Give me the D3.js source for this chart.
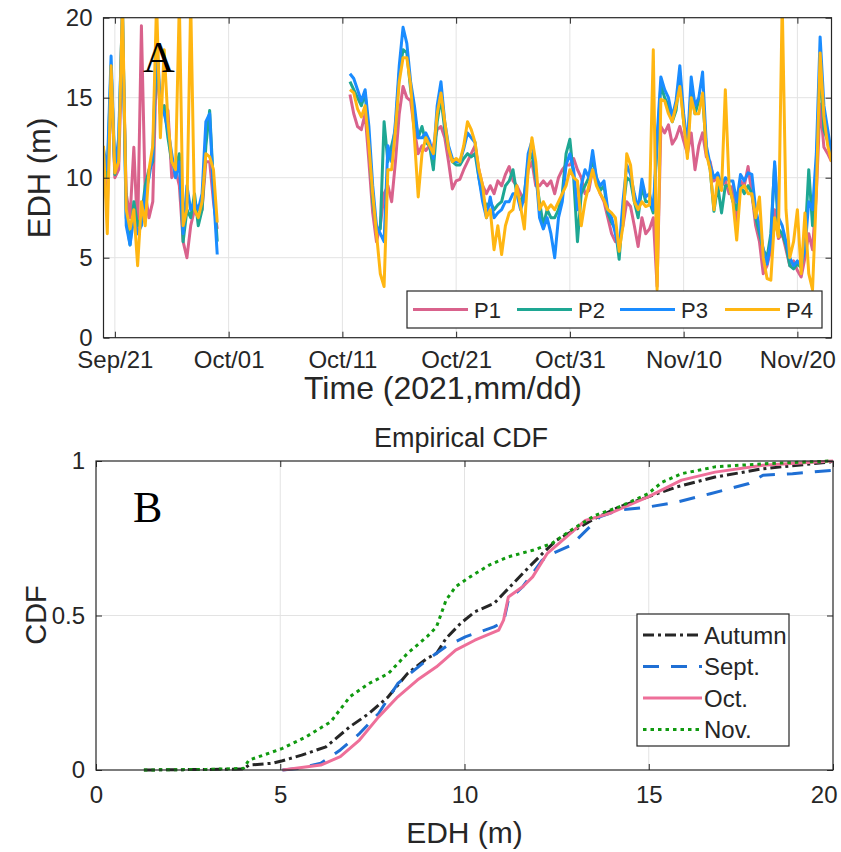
<!DOCTYPE html>
<html>
<head>
<meta charset="UTF-8">
<script src="https://d3js.org/d3.v7.min.js"></script>
<style>
    body { margin: 0; background: #fff; }
    svg text { font-family: "Liberation Sans", Arial, sans-serif; fill: #262626; }
    .grid line { stroke: #e3e3e3; stroke-width: 1; }
    .axis line { stroke: #262626; }
    .axis path { display: none; }
    .axis text { font-size: 24px; }
    .frame { fill: none; stroke: #262626; stroke-width: 1.2; }
    .series { fill: none; stroke-width: 3; stroke-linejoin: round; }
</style>
</head>
<body>
<svg id="chart" width="841" height="852"></svg>
<script>
// ---- panel A: EDH time series (hours after 2021-09-21 00:00 UTC) ----
const hoursSep = [-24, -16, -8, 0, 8, 16, 24, 32, 40, 48, 56, 64, 72, 80, 88, 96,
    104, 112, 120, 128, 136, 144, 152, 160, 168, 176, 184, 192, 200, 208, 216];
const hoursOct = [496, 504, 512, 520, 528, 536, 544, 552, 560, 568, 576, 584, 592, 600, 608, 616,
    624, 632, 640, 648, 656, 664, 672, 680, 688, 696, 704, 712, 720, 728, 736, 744,
    752, 760, 768, 776, 784, 792, 800, 808, 816, 824, 832, 840, 848, 856, 864, 872,
    880, 888, 896, 904, 912, 920, 928, 936, 944, 952, 960, 968, 976, 984, 992, 1000,
    1008, 1016, 1024, 1032, 1040, 1048, 1056, 1064, 1072, 1080, 1088, 1096, 1104, 1112, 1120, 1128,
    1136, 1144, 1152, 1160, 1168, 1176, 1184, 1192, 1200, 1208, 1216, 1224, 1232, 1240, 1248, 1256,
    1264, 1272, 1280, 1288, 1296, 1304, 1312, 1320, 1328, 1336, 1344, 1352, 1360, 1368, 1376, 1384,
    1392, 1400, 1408, 1416, 1424, 1432, 1440, 1448, 1456, 1464, 1472, 1480, 1488, 1496, 1504, 1512];

const p1Sep = [11.0, 8.0, 16.3, 10.0, 10.5, 19.0, 9.0, 7.5, 11.9, 6.5, 19.5, 9.0, 7.5, 8.5, 17.5, 14.0,
    14.5, 14.2, 10.0, 10.5, 9.5, 6.0, 5.0, 7.0, 8.0, 7.5, 8.0, 11.0, 11.0, 8.5, 6.8];
const p2Sep = [11.5, 10.0, 17.0, 10.2, 12.0, 20.5, 7.5, 5.8, 8.5, 7.0, 7.5, 9.5, 10.5, 11.0, 18.5, 14.0,
    14.5, 12.5, 11.0, 10.5, 11.5, 6.0, 8.0, 7.5, 9.0, 7.0, 8.0, 12.0, 14.2, 9.5, 6.0];
const p3Sep = [11.8, 10.5, 17.6, 10.5, 12.5, 20.5, 7.0, 5.8, 7.5, 6.5, 7.0, 9.0, 10.0, 11.5, 19.0, 14.5,
    14.0, 13.0, 11.5, 10.0, 11.0, 6.5, 9.5, 8.0, 8.5, 8.0, 9.0, 13.5, 14.0, 9.0, 5.2];
const p4Sep = [12.0, 6.5, 17.0, 10.3, 11.0, 21, 8.0, 6.8, 8.0, 4.5, 8.5, 7.0, 10.5, 12.0, 21, 12.5,
    18.0, 13.5, 11.0, 10.5, 21, 7.0, 8.0, 21, 8.0, 7.5, 8.5, 11.5, 11.3, 10.5, 7.2];

const p1Oct = [15.2, 14.0, 13.2, 13.0, 14.0, 11.0, 7.8, 6.0, 7.0, 9.0,
    9.5, 8.5, 11.0, 14.0, 15.7, 15.0, 14.8, 13.0, 11.5, 12.0,
    11.7, 12.0, 12.0, 13.0, 13.2, 12.5, 11.0, 9.3, 9.8, 9.9,
    10.5, 11.0, 11.5, 12.0, 10.5, 9.5, 9.0, 9.5, 9.0, 9.8,
    9.5, 10.2, 10.7, 9.8, 9.5, 9.0, 8.5, 10.5, 11.0, 9.5,
    9.5, 9.8, 9.5, 9.8, 9.0, 10.0, 10.5, 10.8, 10.8, 11.2,
    10.5, 10.0, 9.0, 9.2, 10.5, 9.8, 9.0, 8.5, 7.5, 6.5,
    6.0, 6.0, 7.0, 8.5, 8.2, 7.0, 5.7, 7.5, 6.5, 6.8,
    7.5, 3.2, 13.2, 12.8, 13.3, 12.1, 12.5, 13.2, 12.3, 11.5,
    12.8, 10.5, 12.0, 12.8, 11.3, 11.0, 9.8, 10.0, 9.5, 9.8,
    9.0, 9.5, 6.8, 9.8, 9.5, 10.7, 9.0, 7.0, 6.0, 4.0,
    4.5, 5.5, 8.0, 6.2, 6.5, 5.5, 4.5, 4.8, 4.2, 3.8,
    5.0, 6.5, 5.5, 9.0, 14.6, 11.9, 11.5, 11.0];
const p2Oct = [16.0, 15.5, 15.0, 14.5, 15.3, 12.5, 8.5, 6.8, 6.8, 13.5,
    11.0, 12.0, 13.0, 16.5, 18.0, 17.8, 15.5, 14.0, 12.5, 13.2,
    12.2, 12.0, 10.5, 13.5, 15.0, 13.0, 11.8, 11.0, 10.8, 10.8,
    11.2, 11.5, 11.3, 11.5, 10.0, 8.8, 8.2, 8.5, 8.0, 8.3,
    8.5, 9.5, 9.8, 10.5, 9.0, 8.5, 9.0, 11.0, 11.5, 10.0,
    8.5, 7.0, 8.0, 7.5, 7.5, 8.0, 9.0, 11.5, 12.4, 10.0,
    6.0, 9.0, 9.5, 10.0, 11.2, 10.0, 9.2, 9.5, 7.8, 7.2,
    6.8, 4.9, 8.0, 10.0, 9.8, 8.5, 7.5, 9.5, 8.5, 8.5,
    7.8, 12.0, 15.8, 15.0, 14.5, 13.5, 14.2, 16.3, 13.5, 11.8,
    15.5, 14.0, 14.8, 15.0, 11.8, 10.5, 7.9, 9.5, 7.8, 9.5,
    9.5, 8.5, 8.0, 9.5, 9.0, 9.5, 9.0, 7.5, 6.5, 5.5,
    5.0, 6.5, 10.8, 6.8, 6.5, 5.8, 4.5, 4.3, 4.6, 4.4,
    6.0, 10.5, 7.0, 10.5, 17.0, 13.0, 12.3, 11.3];
const p3Oct = [16.5, 16.2, 15.5, 14.8, 15.5, 13.2, 9.5, 7.0, 6.5, 6.0,
    12.0, 11.0, 13.5, 17.0, 19.4, 18.4, 16.0, 14.5, 12.5, 12.5,
    12.8, 12.3, 11.2, 14.5, 16.0, 13.5, 12.0, 11.2, 11.0, 11.0,
    11.8, 12.8, 12.5, 12.2, 10.0, 8.5, 7.5, 8.8, 7.5, 7.8,
    8.0, 8.5, 8.5, 9.0, 9.0, 8.0, 8.8, 11.5, 12.3, 10.5,
    7.5, 6.8, 7.5, 6.5, 5.0, 7.5, 8.5, 10.8, 11.5, 10.5,
    8.0, 9.5, 10.5, 10.0, 11.7, 10.0, 9.5, 9.8, 8.0, 7.5,
    6.5, 5.5, 8.5, 10.8, 10.2, 9.0, 8.0, 9.9, 8.8, 9.0,
    8.0, 12.5, 16.3, 15.5, 15.0, 13.8, 14.8, 17.0, 14.0, 12.0,
    16.3, 14.5, 15.0, 16.6, 12.0, 10.8, 10.0, 10.3, 9.5, 10.0,
    9.8, 9.8, 8.5, 10.2, 9.8, 10.3, 10.2, 8.0, 7.0, 5.5,
    4.6, 6.0, 11.0, 7.5, 7.0, 6.0, 5.0, 4.5, 4.8, 4.5,
    5.5, 8.5, 8.0, 11.5, 18.8, 14.5, 13.0, 11.5];
const p4Oct = [15.5, 15.3, 14.3, 13.8, 14.5, 12.0, 9.0, 6.5, 4.0, 3.2,
    10.5, 10.5, 13.0, 16.0, 17.5, 17.5, 15.8, 12.5, 8.8, 11.5,
    12.5, 12.0, 11.5, 14.0, 15.3, 13.5, 11.8, 11.0, 11.2, 11.0,
    12.0, 13.5, 13.0, 12.2, 10.5, 9.5, 7.5, 8.0, 5.5, 7.0,
    5.2, 7.0, 7.8, 8.0, 9.5, 8.2, 6.8, 10.5, 12.5, 11.0,
    8.0, 8.5, 8.0, 8.3, 8.0, 8.5, 9.0, 9.5, 10.5, 10.0,
    9.8, 7.0, 8.5, 9.5, 10.5, 9.5, 9.0, 8.6, 8.0, 7.8,
    7.5, 5.4, 7.0, 11.5, 10.8, 8.5, 8.0, 8.5, 8.2, 8.3,
    18.0, 3.0, 14.9, 14.8, 14.0, 13.5, 14.5, 15.7, 13.5, 11.2,
    15.0, 14.0, 14.0, 15.3, 11.5, 10.5, 8.0, 10.0, 9.2, 15.5,
    9.5, 8.5, 6.1, 9.3, 9.5, 9.0, 9.0, 7.5, 8.8, 5.0,
    3.7, 3.6, 7.5, 6.3, 21.0, 8.0, 5.0, 6.0, 8.0, 4.0,
    7.8, 4.0, 3.0, 9.0, 17.8, 13.8, 12.0, 11.0];

const seriesNames = ["P1", "P2", "P3", "P4"];
const seriesColors = ["#d9628c", "#1ea793", "#1a8cff", "#ffb612"];
const dateTicks = ["2021-09-21", "2021-10-01", "2021-10-11", "2021-10-21", "2021-10-31", "2021-11-10", "2021-11-20"];
const edhTicksA = [0, 5, 10, 15, 20];

// ---- panel B: empirical CDFs ----
const edhAutumn = [1.3, 4.0, 4.15, 4.8, 5.06, 5.58, 6.24, 6.89, 7.41, 7.93, 8.45, 8.98, 9.24, 9.5, 9.89, 10.28,
    10.8, 11.06, 11.58, 12.11, 12.5, 12.89, 13.54, 14.19, 15.1, 15.76, 16.8, 18.1, 19.93, 20];
const cdfAutumn = [0, 0.003, 0.016, 0.022, 0.03, 0.048, 0.075, 0.14, 0.183, 0.237, 0.312, 0.361, 0.377, 0.426, 0.474, 0.512,
    0.539, 0.571, 0.636, 0.70, 0.744, 0.77, 0.814, 0.851, 0.889, 0.916, 0.948, 0.975, 0.997, 1];
const edhSept = [5.06, 5.5, 6.1, 6.63, 7.15, 7.67, 8.19, 8.98, 9.5, 10.02, 10.8, 11.06, 11.19, 11.58, 12.11, 12.37,
    12.89, 13.67, 14.19, 14.98, 15.76, 16.67, 17.72, 18.1, 18.9, 20];
const cdfSept = [0, 0.005, 0.022, 0.065, 0.118, 0.183, 0.28, 0.356, 0.40, 0.431, 0.463, 0.48, 0.55, 0.593, 0.679, 0.70,
    0.727, 0.819, 0.841, 0.851, 0.867, 0.894, 0.927, 0.954, 0.959, 0.97];
const edhOct = [5.06, 6.1, 6.63, 7.15, 7.67, 8.19, 8.72, 9.24, 9.76, 10.28, 10.93, 11.06, 11.19, 11.58, 11.85, 12.24,
    12.76, 13.28, 13.93, 14.98, 15.89, 16.8, 18.1, 20];
const cdfOct = [0, 0.016, 0.043, 0.097, 0.172, 0.237, 0.291, 0.334, 0.388, 0.42, 0.453, 0.485, 0.56, 0.593, 0.625, 0.70,
    0.754, 0.808, 0.83, 0.884, 0.938, 0.964, 0.986, 1.0];
const edhNov = [1.3, 3.0, 4.0, 4.15, 4.54, 5.06, 5.71, 6.37, 6.89, 7.41, 7.93, 8.45, 8.98, 9.24, 9.5, 9.76,
    10.15, 10.67, 11.19, 11.85, 12.37, 12.89, 13.54, 14.19, 14.98, 15.37, 15.89, 16.8, 18.1, 19.93];
const cdfNov = [0, 0.002, 0.005, 0.032, 0.048, 0.070, 0.108, 0.156, 0.237, 0.280, 0.312, 0.377, 0.431, 0.463, 0.55, 0.593,
    0.625, 0.663, 0.69, 0.711, 0.733, 0.776, 0.824, 0.851, 0.894, 0.932, 0.959, 0.981, 0.991, 1.0];

const cdfNames = ["Autumn", "Sept.", "Oct.", "Nov."];
const cdfColors = ["#262626", "#1f6fd4", "#ee6f99", "#109a10"];
const cdfDashes = ["11,4,3,4", "16,12", null, "3.5,4"];
const edhTicksB = [0, 5, 10, 15, 20];
const cdfTicks = [0, 0.5, 1];
const cdfTickLabels = ["0", "0.5", "1"];

const svg = d3.select("#chart");
svg.append("rect").attr("width", 841).attr("height", 852).attr("fill", "#fff");

const t0 = Date.UTC(2021, 8, 21);
const toDate = h => new Date(t0 + h * 3600e3);

// ===================== Panel A =====================
const xA = d3.scaleUtc()
    .domain([new Date(Date.UTC(2021, 8, 20)), new Date(Date.UTC(2021, 10, 23))])
    .range([103.5, 831.5]);
const yA = d3.scaleLinear().domain([0, 20]).range([337.7, 17.7]);
const tickDates = dateTicks.map(s => new Date(s + "T00:00:00Z"));

const gA = svg.append("g");
const gridA = gA.append("g").attr("class", "grid");
gridA.selectAll(".vx").data(tickDates).join("line")
    .attr("x1", d => xA(d)).attr("x2", d => xA(d))
    .attr("y1", yA(0)).attr("y2", yA(20));
gridA.selectAll(".hy").data(edhTicksA.slice(1, -1)).join("line")
    .attr("x1", xA.range()[0]).attr("x2", xA.range()[1])
    .attr("y1", d => yA(d)).attr("y2", d => yA(d));

gA.append("clipPath").attr("id", "clipA").append("rect")
    .attr("x", xA.range()[0]).attr("y", yA(20))
    .attr("width", xA.range()[1] - xA.range()[0]).attr("height", yA(0) - yA(20));

const sepVals = [p1Sep, p2Sep, p3Sep, p4Sep];
const octVals = [p1Oct, p2Oct, p3Oct, p4Oct];
const lineA = d3.line().x(d => xA(d.t)).y(d => yA(d.v));
const linesA = gA.append("g").attr("clip-path", "url(#clipA)");
seriesNames.forEach((name, i) => {
    const segs = [
        hoursSep.map((h, j) => ({t: toDate(h), v: sepVals[i][j]})),
        hoursOct.map((h, j) => ({t: toDate(h), v: octVals[i][j]}))
    ];
    segs.forEach(seg => {
        linesA.append("path").datum(seg)
            .attr("class", "series")
            .attr("stroke", seriesColors[i])
            .attr("d", lineA);
    });
});

// axes (MATLAB style: inward ticks on all four sides)
gA.append("g").attr("class", "axis")
    .attr("transform", `translate(0,${yA(0)})`)
    .call(d3.axisBottom(xA).tickValues(tickDates).tickFormat(d3.utcFormat("%b/%d"))
        .tickSizeInner(-6).tickSizeOuter(0).tickPadding(13));
gA.append("g").attr("class", "axis")
    .attr("transform", `translate(0,${yA(20)})`)
    .call(d3.axisTop(xA).tickValues(tickDates).tickFormat("").tickSizeInner(-6).tickSizeOuter(0));
gA.append("g").attr("class", "axis")
    .attr("transform", `translate(${xA.range()[0]},0)`)
    .call(d3.axisLeft(yA).tickValues(edhTicksA).tickSizeInner(-6).tickSizeOuter(0).tickPadding(11));
gA.append("g").attr("class", "axis")
    .attr("transform", `translate(${xA.range()[1]},0)`)
    .call(d3.axisRight(yA).tickValues(edhTicksA).tickFormat("").tickSizeInner(-6).tickSizeOuter(0));
gA.append("rect").attr("class", "frame")
    .attr("x", xA.range()[0]).attr("y", yA(20))
    .attr("width", xA.range()[1] - xA.range()[0]).attr("height", yA(0) - yA(20));

gA.append("text").attr("x", 443).attr("y", 399).attr("text-anchor", "middle")
    .style("font-size", "32px").text("Time (2021,mm/dd)");
gA.append("text").attr("transform", "translate(50,178) rotate(-90)").attr("text-anchor", "middle")
    .style("font-size", "31px").text("EDH (m)");
gA.append("text").attr("x", 143).attr("y", 72)
    .style("font-family", "'Liberation Serif', 'Times New Roman', serif").style("font-size", "44px")
    .style("fill", "#000").text("A");

// legend A
const legA = gA.append("g");
legA.append("rect").attr("x", 407).attr("y", 291).attr("width", 415).attr("height", 37)
    .attr("fill", "#fff").attr("stroke", "#262626").attr("stroke-width", 1.2);
const legAx = [413, 517, 620, 725];
seriesNames.forEach((name, i) => {
    legA.append("line").attr("x1", legAx[i]).attr("x2", legAx[i] + 55)
        .attr("y1", 309.5).attr("y2", 309.5)
        .attr("stroke", seriesColors[i]).attr("stroke-width", 3);
    legA.append("text").attr("x", legAx[i] + 61).attr("y", 318)
        .style("font-size", "22px").text(name);
});

// ===================== Panel B =====================
const xB = d3.scaleLinear().domain([0, 20]).range([96, 833]);
const yB = d3.scaleLinear().domain([0, 1]).range([770, 461]);
const gB = svg.append("g");
const gridB = gB.append("g").attr("class", "grid");
gridB.selectAll(".vx").data(edhTicksB.slice(1, -1)).join("line")
    .attr("x1", d => xB(d)).attr("x2", d => xB(d)).attr("y1", yB(0)).attr("y2", yB(1));
gridB.selectAll(".hy").data([0.5]).join("line")
    .attr("x1", xB(0)).attr("x2", xB(20)).attr("y1", d => yB(d)).attr("y2", d => yB(d));

const cdfX = [edhAutumn, edhSept, edhOct, edhNov];
const cdfY = [cdfAutumn, cdfSept, cdfOct, cdfNov];
const lineB = d3.line().x(d => xB(d[0])).y(d => yB(d[1]));
cdfNames.forEach((name, i) => {
    gB.append("path").datum(cdfX[i].map((e, j) => [e, cdfY[i][j]]))
        .attr("class", "series")
        .attr("stroke", cdfColors[i])
        .attr("stroke-dasharray", cdfDashes[i])
        .attr("d", lineB);
});

const axB = gB.append("g").attr("class", "axis")
    .attr("transform", `translate(0,${yB(0)})`)
    .call(d3.axisBottom(xB).tickValues(edhTicksB).tickSizeInner(-6).tickSizeOuter(0).tickPadding(16));
// keep the last label inside the picture
axB.selectAll(".tick text").filter(d => d === 20).attr("text-anchor", "end").attr("dx", 4);
gB.append("g").attr("class", "axis")
    .attr("transform", `translate(0,${yB(1)})`)
    .call(d3.axisTop(xB).tickValues(edhTicksB).tickFormat("").tickSizeInner(-6).tickSizeOuter(0));
gB.append("g").attr("class", "axis")
    .attr("transform", `translate(${xB(0)},0)`)
    .call(d3.axisLeft(yB).tickValues(cdfTicks).tickFormat((d, i) => cdfTickLabels[i])
        .tickSizeInner(-6).tickSizeOuter(0).tickPadding(11));
gB.append("g").attr("class", "axis")
    .attr("transform", `translate(${xB(20)},0)`)
    .call(d3.axisRight(yB).tickValues(cdfTicks).tickFormat("").tickSizeInner(-6).tickSizeOuter(0));
gB.append("rect").attr("class", "frame")
    .attr("x", xB(0)).attr("y", yB(1)).attr("width", xB(20) - xB(0)).attr("height", yB(0) - yB(1));

gB.append("text").attr("x", 461).attr("y", 447).attr("text-anchor", "middle")
    .style("font-size", "27px").text("Empirical CDF");
gB.append("text").attr("x", 464.5).attr("y", 843).attr("text-anchor", "middle")
    .style("font-size", "30px").text("EDH (m)");
gB.append("text").attr("transform", "translate(46,615) rotate(-90)").attr("text-anchor", "middle")
    .style("font-size", "29px").text("CDF");
gB.append("text").attr("x", 133).attr("y", 522)
    .style("font-family", "'Liberation Serif', 'Times New Roman', serif").style("font-size", "44px")
    .style("fill", "#000").text("B");

// legend B
const legB = gB.append("g");
legB.append("rect").attr("x", 637).attr("y", 614).attr("width", 152).attr("height", 132)
    .attr("fill", "#fff").attr("stroke", "#262626").attr("stroke-width", 1.2);
const legBy = [635, 666.5, 698, 729.5];
cdfNames.forEach((name, i) => {
    legB.append("line").attr("x1", 643).attr("x2", 702)
        .attr("y1", legBy[i]).attr("y2", legBy[i])
        .attr("stroke", cdfColors[i]).attr("stroke-width", 3)
        .attr("stroke-dasharray", cdfDashes[i]);
    legB.append("text").attr("x", 704).attr("y", legBy[i] + 8.5)
        .style("font-size", "24px").text(name);
});
</script>
</body>
</html>
